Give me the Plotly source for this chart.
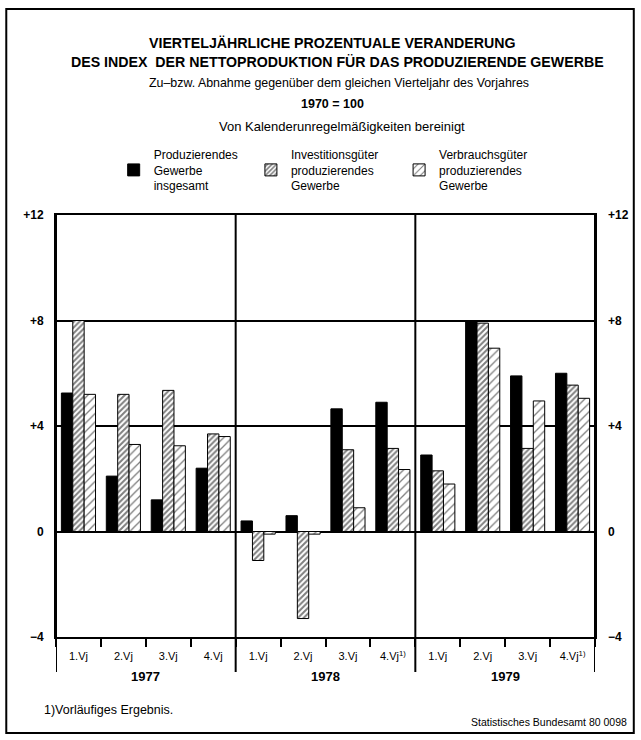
import plotly.graph_objects as go

# ---------------- data ----------------
years = ["1977", "1978", "1979"]
quarter_labels = ["1.Vj", "2.Vj", "3.Vj", "4.Vj",
                  "1.Vj", "2.Vj", "3.Vj", "4.Vj<sup>1)</sup>",
                  "1.Vj", "2.Vj", "3.Vj", "4.Vj<sup>1)</sup>"]
gesamt = [5.25, 2.1, 1.2, 2.4, 0.4, 0.6, 4.65, 4.9, 2.9, 7.95, 5.9, 6.0]
investition = [8.0, 5.2, 5.35, 3.7, -1.1, -3.3, 3.1, 3.15, 2.3, 7.9, 3.15, 5.55]
verbrauch = [5.2, 3.3, 3.25, 3.6, -0.1, -0.1, 0.9, 2.35, 1.8, 6.95, 4.95, 5.05]
series_names = ["Produzierendes<br>Gewerbe<br>insgesamt",
                "Investitionsgüter<br>produzierendes<br>Gewerbe",
                "Verbrauchsgüter<br>produzierendes<br>Gewerbe"]
y_ticks = [-4, 0, 4, 8, 12]
y_ticktext = ["\u22124", "0", "+4", "+8", "+12"]

FONT = "Liberation Sans, Arial, sans-serif"
x = list(range(len(quarter_labels)))

fig = go.Figure()
fig.add_trace(go.Bar(x=x, y=gesamt, name=series_names[0], legend="legend",
                     marker=dict(color="black", line=dict(color="black", width=1))))
fig.add_trace(go.Bar(x=x, y=investition, name=series_names[1], legend="legend2",
                     marker=dict(color="white", line=dict(color="black", width=1),
                                 pattern=dict(shape="/", fgcolor="black", bgcolor="white",
                                              size=4, solidity=0.5))))
fig.add_trace(go.Bar(x=x, y=verbrauch, name=series_names[2], legend="legend3",
                     marker=dict(color="white", line=dict(color="black", width=1),
                                 pattern=dict(shape="/", fgcolor="black", bgcolor="white",
                                              size=6, solidity=0.22))))
# invisible companion so the right-hand value axis is drawn
fig.add_trace(go.Scatter(x=x, y=gesamt, yaxis="y2", mode="markers",
                         marker=dict(opacity=0), showlegend=False, hoverinfo="skip"))

W, H = 641, 740
L, R, T, B = 56, 43, 215, 103
pw, ph = W - L - R, H - T - B

def px(xp):
    return (xp - L) / pw

def py(yp):
    return (H - B - yp) / ph

def legend_at(xp):
    return dict(orientation="h", x=px(xp), y=py(140), xanchor="left", yanchor="top",
                font=dict(family=FONT, size=12, color="black"),
                bgcolor="rgba(0,0,0,0)", itemwidth=30)

fig.update_layout(
    width=W, height=H, autosize=False,
    margin=dict(l=L, r=R, t=T, b=B),
    paper_bgcolor="white", plot_bgcolor="white",
    font=dict(family=FONT, color="black", size=12),
    barmode="group", bargap=0.24, bargroupgap=0,
    showlegend=True,
    legend=legend_at(114), legend2=legend_at(252), legend3=legend_at(401),
    xaxis=dict(range=[-0.5, len(x) - 0.5], tickmode="array", tickvals=x,
               ticktext=quarter_labels, ticks="", showgrid=False, zeroline=False,
               showline=True, mirror=True, linecolor="black", linewidth=2,
               ticklabelstandoff=8,
               tickfont=dict(family=FONT, size=11, color="black"),
               minor=dict(ticks="outside", tick0=0.5, dtick=1, ticklen=8,
                          tickcolor="black", tickwidth=1.5, showgrid=False)),
    yaxis=dict(range=[-4, 12], tickmode="array", tickvals=y_ticks, ticktext=y_ticktext,
               ticks="", showgrid=True, gridcolor="black", gridwidth=1.5,
               zeroline=True, zerolinecolor="black", zerolinewidth=2,
               showline=True, mirror=True, linecolor="black", linewidth=2,
               ticklabelstandoff=8,
               tickfont=dict(family=FONT, size=12, color="black", weight="bold")),
    yaxis2=dict(range=[-4, 12], overlaying="y", side="right", anchor="x",
                tickmode="array", tickvals=y_ticks, ticktext=y_ticktext,
                ticks="", showgrid=False, zeroline=False, showline=False,
                ticklabelstandoff=12,
                tickfont=dict(family=FONT, size=12, color="black", weight="bold")),
)

shapes = []
# outer frame
shapes.append(dict(type="rect", xref="paper", yref="paper",
                   x0=px(6), x1=px(637), y0=py(733), y1=py(9),
                   line=dict(color="black", width=2), layer="below"))
# year dividers and side extensions below the axis
for xb in [-0.5, 3.5, 7.5, 11.5]:
    shapes.append(dict(type="line", xref="x", yref="paper", x0=xb, x1=xb,
                       y0=py(672), y1=1, line=dict(color="black", width=2)))
fig.update_layout(shapes=shapes)

ann = []
def text(s, xp, yp, size, bold=False, xanchor="center"):
    ann.append(dict(text=("<b>%s</b>" % s) if bold else s, xref="paper", yref="paper",
                    x=px(xp), y=py(yp), xanchor=xanchor, yanchor="middle",
                    showarrow=False, font=dict(family=FONT, size=size, color="black")))

text("VIERTELJÄHRLICHE PROZENTUALE VERANDERUNG", 334, 43, 14.2, True)
text("DES INDEX  DER NETTOPRODUKTION FÜR DAS PRODUZIERENDE GEWERBE", 339, 62, 14.2, True)
text("Zu–bzw. Abnahme gegenüber dem gleichen Vierteljahr des Vorjahres", 341, 83, 12.4)
text("1970 = 100", 334, 104, 12.5, True)
text("Von Kalenderunregelmäßigkeiten bereinigt", 344, 126, 13)
text("1)Vorläufiges Ergebnis.", 42, 710, 12.5, xanchor="left")
text("Statistisches Bundesamt 80 0098", 632, 722, 10.5, xanchor="right")

for i, yr in enumerate(years):
    ann.append(dict(text="<b>%s</b>" % yr, xref="x", yref="paper", x=4 * i + 1.5,
                    y=py(676), xanchor="center", yanchor="middle", showarrow=False,
                    font=dict(family=FONT, size=13, color="black")))
fig.update_layout(annotations=ann)

fig.write_html("out.html", config={"displayModeBar": False},
               post_script="document.body.style.margin='0';document.body.style.padding='0';")
